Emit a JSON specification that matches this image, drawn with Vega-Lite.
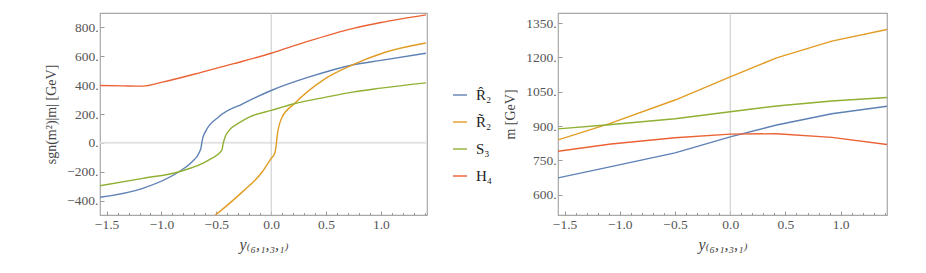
{
  "$schema": "https://vega.github.io/schema/vega-lite/v6.json",
  "padding": {"left": 44, "top": 11, "right": 5, "bottom": 5},
  "background": "white",
  "spacing": 9,
  "config": {
    "font": "'Liberation Serif', 'Times New Roman', 'DejaVu Serif', serif",
    "view": {"stroke": "#a8a8a8", "strokeWidth": 1.2},
    "axis": {
      "domain": false, "grid": false, "labelOverlap": false,
      "labelFont": "'Liberation Serif', 'Times New Roman', 'DejaVu Serif', serif", "labelFontSize": 13.5, "labelColor": "#555555",
      "titleFont": "'Liberation Serif', 'Times New Roman', 'DejaVu Serif', serif", "titleFontSize": 14, "titleFontWeight": "normal", "titleColor": "#444444",
      "tickColor": "#999999", "tickSize": -4, "labelPadding": 6
    },
    "line": {"strokeWidth": 1.4}
  },
  "datasets": {
    "left": [
      {"s": "R̂₂", "x": -1.56, "y": -377}, {"s": "R̂₂", "x": -1.17, "y": -315}, {"s": "R̂₂", "x": -0.84, "y": -200},
      {"s": "R̂₂", "x": -0.72, "y": -131}, {"s": "R̂₂", "x": -0.66, "y": -74}, {"s": "R̂₂", "x": -0.64, "y": -35},
      {"s": "R̂₂", "x": -0.625, "y": 30}, {"s": "R̂₂", "x": -0.60, "y": 76}, {"s": "R̂₂", "x": -0.48, "y": 179},
      {"s": "R̂₂", "x": -0.26, "y": 271}, {"s": "R̂₂", "x": 0, "y": 363}, {"s": "R̂₂", "x": 0.34, "y": 455},
      {"s": "R̂₂", "x": 0.74, "y": 540}, {"s": "R̂₂", "x": 1.0, "y": 572}, {"s": "R̂₂", "x": 1.41, "y": 621},
      {"s": "R̃₂", "x": -0.515, "y": -505}, {"s": "R̃₂", "x": -0.26, "y": -338}, {"s": "R̃₂", "x": -0.08, "y": -200},
      {"s": "R̃₂", "x": 0, "y": -108}, {"s": "R̃₂", "x": 0.033, "y": -70}, {"s": "R̃₂", "x": 0.045, "y": -20},
      {"s": "R̃₂", "x": 0.055, "y": 50}, {"s": "R̃₂", "x": 0.10, "y": 179}, {"s": "R̃₂", "x": 0.21, "y": 271},
      {"s": "R̃₂", "x": 0.49, "y": 444}, {"s": "R̃₂", "x": 0.74, "y": 540}, {"s": "R̃₂", "x": 1.04, "y": 628},
      {"s": "R̃₂", "x": 1.41, "y": 692},
      {"s": "S₃", "x": -1.56, "y": -297}, {"s": "S₃", "x": -1.17, "y": -246}, {"s": "S₃", "x": -0.84, "y": -200},
      {"s": "S₃", "x": -0.57, "y": -120}, {"s": "S₃", "x": -0.45, "y": -51}, {"s": "S₃", "x": -0.436, "y": 0},
      {"s": "S₃", "x": -0.42, "y": 41}, {"s": "S₃", "x": -0.385, "y": 85}, {"s": "S₃", "x": -0.29, "y": 140},
      {"s": "S₃", "x": -0.20, "y": 179}, {"s": "S₃", "x": 0, "y": 225}, {"s": "S₃", "x": 0.21, "y": 271},
      {"s": "S₃", "x": 0.5, "y": 317}, {"s": "S₃", "x": 0.74, "y": 352}, {"s": "S₃", "x": 1.0, "y": 379},
      {"s": "S₃", "x": 1.41, "y": 416},
      {"s": "H₄", "x": -1.56, "y": 398}, {"s": "H₄", "x": -1.35, "y": 395}, {"s": "H₄", "x": -1.17, "y": 393},
      {"s": "H₄", "x": -0.99, "y": 421}, {"s": "H₄", "x": -0.63, "y": 490}, {"s": "H₄", "x": -0.35, "y": 547},
      {"s": "H₄", "x": 0, "y": 621}, {"s": "H₄", "x": 0.31, "y": 698}, {"s": "H₄", "x": 0.74, "y": 792},
      {"s": "H₄", "x": 1.0, "y": 834}, {"s": "H₄", "x": 1.41, "y": 887}
    ],
    "right": [
      {"s": "R̂₂", "x": -1.56, "y": 674}, {"s": "R̂₂", "x": -1.08, "y": 723}, {"s": "R̂₂", "x": -0.5, "y": 783},
      {"s": "R̂₂", "x": 0, "y": 853}, {"s": "R̂₂", "x": 0.42, "y": 905}, {"s": "R̂₂", "x": 0.92, "y": 954},
      {"s": "R̂₂", "x": 1.42, "y": 987},
      {"s": "R̃₂", "x": -1.56, "y": 840}, {"s": "R̃₂", "x": -1.1, "y": 910}, {"s": "R̃₂", "x": -0.5, "y": 1014},
      {"s": "R̃₂", "x": 0, "y": 1115}, {"s": "R̃₂", "x": 0.42, "y": 1198}, {"s": "R̃₂", "x": 0.92, "y": 1271},
      {"s": "R̃₂", "x": 1.42, "y": 1322},
      {"s": "S₃", "x": -1.56, "y": 888}, {"s": "S₃", "x": -1.1, "y": 906}, {"s": "S₃", "x": -0.5, "y": 932},
      {"s": "S₃", "x": 0, "y": 963}, {"s": "S₃", "x": 0.42, "y": 988}, {"s": "S₃", "x": 0.92, "y": 1010},
      {"s": "S₃", "x": 1.42, "y": 1025},
      {"s": "H₄", "x": -1.56, "y": 790}, {"s": "H₄", "x": -1.08, "y": 822}, {"s": "H₄", "x": -0.5, "y": 849},
      {"s": "H₄", "x": 0, "y": 865}, {"s": "H₄", "x": 0.42, "y": 867}, {"s": "H₄", "x": 0.92, "y": 851},
      {"s": "H₄", "x": 1.42, "y": 820}
    ],
    "zero": [{"v": 0}]
  },
  "resolve": {"scale": {"color": "independent"}, "legend": {"color": "independent"}},
  "hconcat": [
    {
      "width": 327, "height": 202,
      "resolve": {"axis": {"x": "independent"}},
      "layer": [
        {
          "data": {"name": "zero"},
          "mark": {"type": "rule", "color": "#e3e3e3", "strokeWidth": 2},
          "encoding": {"y": {"field": "v", "type": "quantitative", "scale": {"domain": [-500, 900], "nice": false, "zero": false},
                             "axis": {"values": [-400, -200, 0, 200, 400, 600, 800], "labelExpr": "format(datum.value, 'd') + '.'", "title": "sgn(m²)|m| [GeV]", "titlePadding": 8, "labelOverlap": false}}}
        },
        {
          "data": {"name": "zero"},
          "mark": {"type": "rule", "color": "#c8c8c8", "strokeWidth": 1},
          "encoding": {"x": {"field": "v", "type": "quantitative", "scale": {"domain": [-1.56, 1.42], "nice": false},
                             "axis": {"orient": "bottom", "values": [-1.4, -1.3, -1.2, -1.1, -0.9, -0.8, -0.7, -0.6, -0.4, -0.3, -0.2, -0.1, 0.1, 0.2, 0.3, 0.4, 0.6, 0.7, 0.8, 0.9, 1.1, 1.2, 1.3, 1.4], "labels": false, "title": null, "tickSize": -2.5}}}
        },
        {
          "data": {"name": "left"},
          "mark": {"type": "line", "interpolate": "monotone", "clip": true},
          "encoding": {
            "x": {"field": "x", "type": "quantitative", "scale": {"domain": [-1.56, 1.42], "nice": false, "zero": false},
                  "axis": {"orient": "bottom", "values": [-1.5, -1, -0.5, 0, 0.5, 1], "format": ".1f", "title": "y₍₆,₁,₃,₁₎", "titleFontSize": 16, "titleFontStyle": "italic", "titlePadding": 6}},
            "y": {"field": "y", "type": "quantitative", "scale": {"domain": [-500, 900], "nice": false, "zero": false},
                  "axis": {"values": [-400, -200, 0, 200, 400, 600, 800], "labelExpr": "format(datum.value, 'd') + '.'", "title": "sgn(m²)|m| [GeV]", "titlePadding": 8, "labelOverlap": false}},
            "color": {"field": "s", "type": "nominal",
                      "scale": {"domain": ["R̂₂", "R̃₂", "S₃", "H₄"], "range": ["#5E81B5", "#E19C24", "#8FB032", "#EB6235"]},
                      "legend": {"title": null, "orient": "none", "legendX": 352, "legendY": 74, "symbolType": "stroke", "symbolSize": 196, "symbolStrokeWidth": 1.5,
                                 "rowPadding": 11, "labelFont": "'Liberation Serif', 'Times New Roman', 'DejaVu Serif', serif", "labelFontSize": 15, "labelColor": "#222222", "labelOffset": 8,
                                 "encode": {"labels": {"update": {"fontStyle": {"signal": "datum.label == 'S₃' || datum.label == 'H₄' ? 'italic' : 'normal'"}, "font": {"signal": "datum.label == 'S₃' || datum.label == 'H₄' ? 'Liberation Serif' : 'DejaVu Sans'"}, "fontSize": {"signal": "datum.label == 'S₃' || datum.label == 'H₄' ? 16 : 11"}}}}}}
          }
        }
      ]
    },
    {
      "width": 329, "height": 202,
      "resolve": {"axis": {"x": "independent"}},
      "layer": [
        {
          "data": {"name": "zero"},
          "mark": {"type": "rule", "color": "#c8c8c8", "strokeWidth": 1},
          "encoding": {"x": {"field": "v", "type": "quantitative", "scale": {"domain": [-1.56, 1.42], "nice": false},
                             "axis": {"orient": "bottom", "values": [-1.4, -1.3, -1.2, -1.1, -0.9, -0.8, -0.7, -0.6, -0.4, -0.3, -0.2, -0.1, 0.1, 0.2, 0.3, 0.4, 0.6, 0.7, 0.8, 0.9, 1.1, 1.2, 1.3, 1.4], "labels": false, "title": null, "tickSize": -2.5}}}
        },
        {
          "data": {"name": "right"},
          "mark": {"type": "line", "clip": true},
          "encoding": {
            "x": {"field": "x", "type": "quantitative", "scale": {"domain": [-1.56, 1.42], "nice": false, "zero": false},
                  "axis": {"orient": "bottom", "values": [-1.5, -1, -0.5, 0, 0.5, 1], "format": ".1f", "title": "y₍₆,₁,₃,₁₎", "titleFontSize": 16, "titleFontStyle": "italic", "titlePadding": 6}},
            "y": {"field": "y", "type": "quantitative", "scale": {"domain": [512, 1394], "nice": false, "zero": false},
                  "axis": {"values": [600, 750, 900, 1050, 1200, 1350], "labelExpr": "format(datum.value, 'd') + '.'", "title": "m [GeV]", "titlePadding": 8}},
            "color": {"field": "s", "type": "nominal",
                      "scale": {"domain": ["R̂₂", "R̃₂", "S₃", "H₄"], "range": ["#5E81B5", "#E19C24", "#8FB032", "#EB6235"]},
                      "legend": null}
          }
        }
      ]
    }
  ]
}
